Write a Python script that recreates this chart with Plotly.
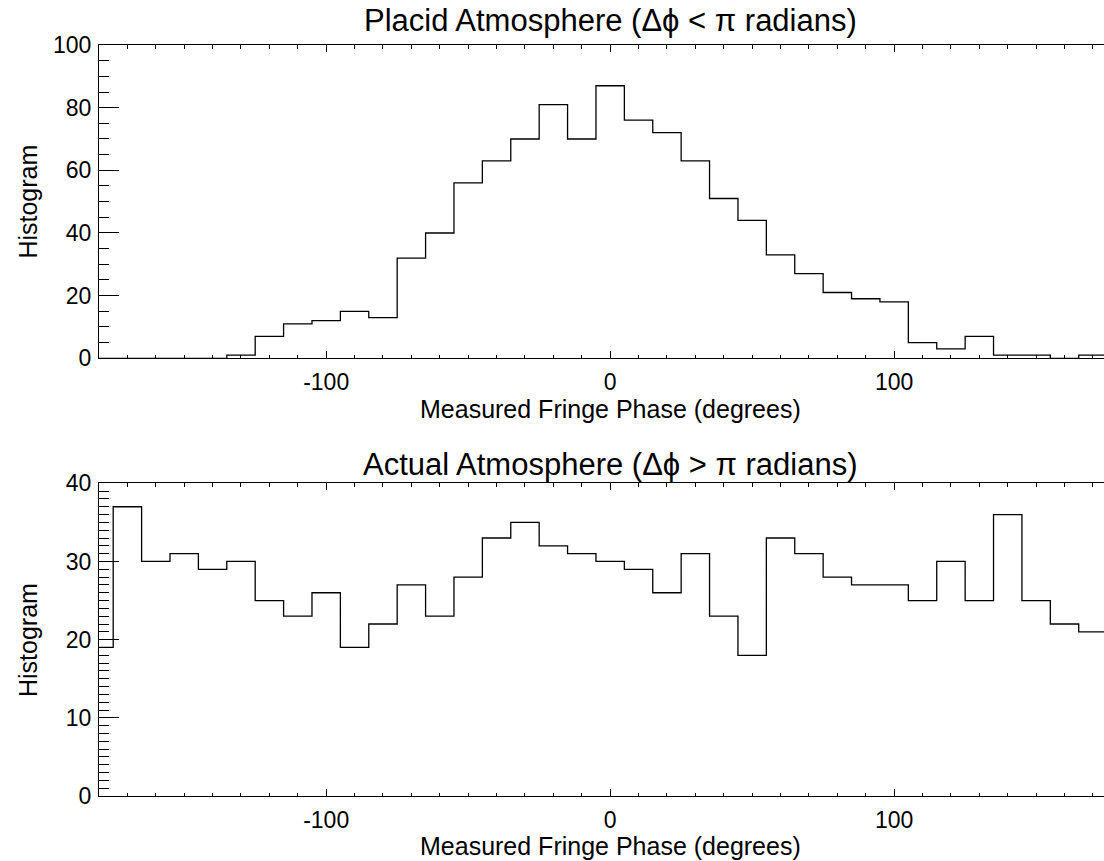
import plotly.graph_objects as go

# ---- data ----
phase_deg = [-180, -170, -160, -150, -140, -130, -120, -110, -100, -90, -80, -70, -60,
             -50, -40, -30, -20, -10, 0, 10, 20, 30, 40, 50, 60, 70, 80, 90, 100,
             110, 120, 130, 140, 150, 160, 170, 180]
placid_counts = [0, 0, 0, 0, 0, 1, 7, 11, 12, 15, 13, 32, 40,
                 56, 63, 70, 81, 70, 87, 76, 72, 63, 51, 44, 33, 27, 21, 19, 18,
                 5, 3, 7, 1, 1, 0, 1, 1]
actual_counts = [19, 37, 30, 31, 29, 30, 25, 23, 26, 19, 22, 27, 23,
                 28, 33, 35, 32, 31, 30, 29, 26, 31, 23, 18, 33, 31, 28, 27, 27,
                 25, 30, 25, 36, 25, 22, 21, 21]
x_ticks = [-100, 0, 100]
x_tick_text = ["-100", "0", "100"]
top_title = "Placid Atmosphere (Δϕ < π radians)"
bottom_title = "Actual Atmosphere (Δϕ > π radians)"
x_label = "Measured Fringe Phase (degrees)"
y_label = "Histogram"

W, H = 1104, 861
FONT = "Liberation Sans, Arial, sans-serif"

fig = go.Figure()
fig.add_trace(go.Scatter(x=phase_deg, y=placid_counts, mode="lines", line_shape="hvh",
                         line=dict(color="black", width=1.3), xaxis="x", yaxis="y",
                         showlegend=False, hoverinfo="skip"))
fig.add_trace(go.Scatter(x=phase_deg, y=actual_counts, mode="lines", line_shape="hvh",
                         line=dict(color="black", width=1.3), xaxis="x2", yaxis="y2",
                         showlegend=False, hoverinfo="skip"))

xdom = [99.0 / W, 1.0]
xrange_ = [-180, 173.9]

def xaxis_cfg(anchor):
    return dict(domain=xdom, range=xrange_, anchor=anchor, automargin=False,
                tickvals=x_ticks, ticktext=x_tick_text,
                ticks="inside", ticklen=7, tickwidth=1, tickcolor="black",
                minor=dict(dtick=10, tick0=0, ticks="inside", ticklen=3.5,
                           tickcolor="black", tickwidth=1),
                showline=True, linecolor="black", linewidth=1, mirror="ticks",
                showgrid=False, zeroline=False,
                tickfont=dict(family=FONT, size=23, color="black"),
                ticklabelstandoff=3, fixedrange=True)

def yaxis_cfg(anchor, dom, rng, dtick, mdtick):
    return dict(domain=dom, range=rng, anchor=anchor, dtick=dtick, tick0=0,
                automargin=False,
                ticks="inside", ticklen=20, tickwidth=1, tickcolor="black",
                minor=dict(dtick=mdtick, tick0=0, ticks="inside", ticklen=10,
                           tickcolor="black", tickwidth=1),
                showline=True, linecolor="black", linewidth=1, mirror=False,
                showgrid=False, zeroline=False,
                tickfont=dict(family=FONT, size=23, color="black"),
                ticklabelstandoff=2, fixedrange=True)

top_dom = [1 - 358.3 / H, 1 - 45.0 / H]
bot_dom = [1 - 796.0 / H, 1 - 483.3 / H]

fig.update_layout(
    width=W, height=H,
    margin=dict(l=0, r=0, t=0, b=0, pad=0, autoexpand=False),
    paper_bgcolor="white", plot_bgcolor="white",
    xaxis=xaxis_cfg("y"),
    yaxis=yaxis_cfg("x", top_dom, [0, 100], 20, 5),
    xaxis2=xaxis_cfg("y2"),
    yaxis2=yaxis_cfg("x2", bot_dom, [0, 40], 10, 1),
)

def ann(text, x, y, size, xref="paper", angle=0):
    return dict(text=text, x=x, y=y, xref=xref, yref="paper", showarrow=False,
                xanchor="center", yanchor="middle", textangle=angle,
                font=dict(family=FONT, size=size, color="black"))

fig.update_layout(annotations=[
    ann(top_title, 0, 1 - 20 / H, 31, xref="x"),
    ann(bottom_title, 0, 1 - 464 / H, 31, xref="x"),
    ann(x_label, 0, 1 - 409 / H, 25, xref="x"),
    ann(x_label, 0, 1 - 846 / H, 25, xref="x"),
    ann(y_label, 28 / W, 1 - 201.6 / H, 25, angle=-90),
    ann(y_label, 28 / W, 1 - 640 / H, 25, angle=-90),
])

fig.write_html("out.html")
